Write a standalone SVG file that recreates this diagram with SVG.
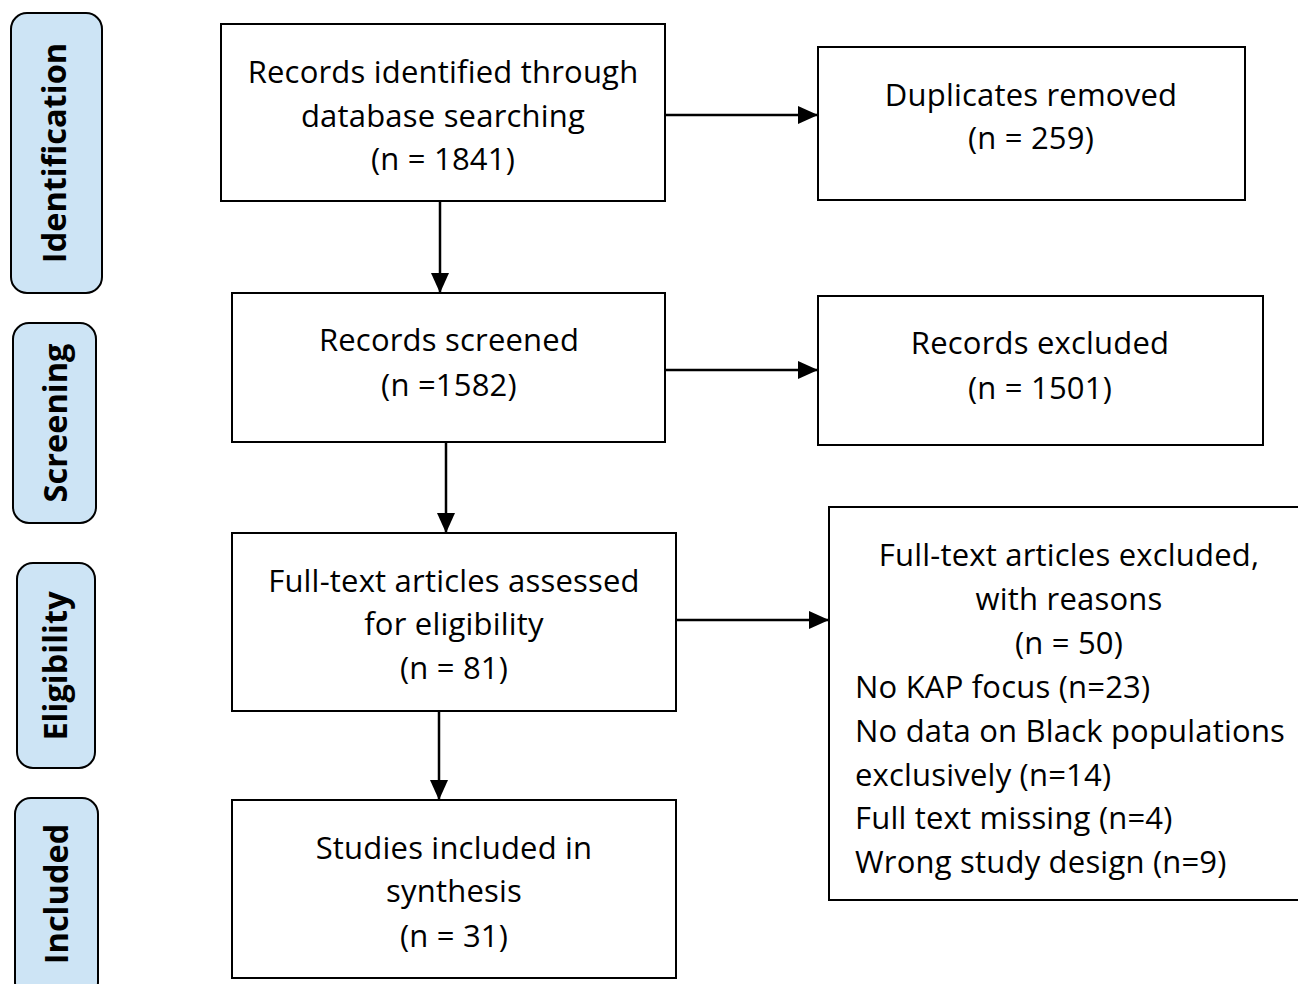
<svg xmlns="http://www.w3.org/2000/svg" width="1298" height="984" viewBox="0 0 1298 984">
<defs>
<style>
.box{fill:#fff;stroke:#000;stroke-width:2}
.side{fill:#cde4f5;stroke:#000;stroke-width:2}
.t{font-family:"Open Sans","Noto Sans","Liberation Sans",sans-serif;font-size:31px;letter-spacing:0.2px;fill:#000;text-anchor:middle}
.l{text-anchor:start}
.s{font-family:"Open Sans","Noto Sans","Liberation Sans",sans-serif;font-size:32.5px;font-weight:bold;fill:#000;text-anchor:middle}
.c{stroke:#000;stroke-width:2.5;fill:none;marker-end:url(#ah)}
</style>
<marker id="ah" markerWidth="20" markerHeight="18" refX="20" refY="9" orient="auto" markerUnits="userSpaceOnUse">
<path d="M0,0 L20,9 L0,18 Z" fill="#000"/>
</marker>
</defs>
<rect width="1298" height="984" fill="#fff"/>
<g id="side-identification"><rect class="side" x="11" y="13" width="91" height="280" rx="16"/><text class="s" transform="translate(66,153) rotate(-90)">Identification</text></g>
<g id="side-screening"><rect class="side" x="13" y="323" width="83" height="200" rx="16"/><text class="s" transform="translate(67,423) rotate(-90)">Screening</text></g>
<g id="side-eligibility"><rect class="side" x="17" y="563" width="78" height="205" rx="16"/><text class="s" transform="translate(67,666) rotate(-90)">Eligibility</text></g>
<g id="side-included"><rect class="side" x="15" y="798" width="83" height="200" rx="16"/><text class="s" transform="translate(68,894) rotate(-90)">Included</text></g>

<g id="connectors">
<line class="c" x1="665" y1="115" x2="818" y2="115"/>
<line class="c" x1="440" y1="201" x2="440" y2="293"/>
<line class="c" x1="665" y1="370" x2="818" y2="370"/>
<line class="c" x1="446" y1="442" x2="446" y2="533"/>
<line class="c" x1="676" y1="620" x2="829" y2="620"/>
<line class="c" x1="439" y1="711" x2="439" y2="800"/>
</g>

<g id="n1"><rect class="box" x="221" y="24" width="444" height="177"/>
<text class="t" x="443" y="83">Records identified through</text>
<text class="t" x="443" y="127">database searching</text>
<text class="t" x="443" y="170">(n = 1841)</text></g>
<g id="n-dup"><rect class="box" x="818" y="47" width="427" height="153"/>
<text class="t" x="1031" y="106">Duplicates removed</text>
<text class="t" x="1031" y="149">(n = 259)</text></g>
<g id="n2"><rect class="box" x="232" y="293" width="433" height="149"/>
<text class="t" x="449" y="351">Records screened</text>
<text class="t" x="449" y="396">(n =1582)</text></g>
<g id="n-exc"><rect class="box" x="818" y="296" width="445" height="149"/>
<text class="t" x="1040" y="354">Records excluded</text>
<text class="t" x="1040" y="399">(n = 1501)</text></g>
<g id="n3"><rect class="box" x="232" y="533" width="444" height="178"/>
<text class="t" x="454" y="592">Full-text articles assessed</text>
<text class="t" x="454" y="635">for eligibility</text>
<text class="t" x="454" y="679">(n = 81)</text></g>
<g id="n-ft"><rect class="box" x="829" y="507" width="480" height="393"/>
<text class="t" x="1069" y="566">Full-text articles excluded,</text>
<text class="t" x="1069" y="610">with reasons</text>
<text class="t" x="1069" y="654">(n = 50)</text>
<text class="t l" x="855" y="698">No KAP focus (n=23)</text>
<text class="t l" x="855" y="742">No data on Black populations</text>
<text class="t l" x="855" y="786">exclusively (n=14)</text>
<text class="t l" x="855" y="829">Full text missing (n=4)</text>
<text class="t l" x="855" y="873">Wrong study design (n=9)</text></g>
<g id="n4"><rect class="box" x="232" y="800" width="444" height="178"/>
<text class="t" x="454" y="859">Studies included in</text>
<text class="t" x="454" y="902">synthesis</text>
<text class="t" x="454" y="947">(n = 31)</text></g>
</svg>
